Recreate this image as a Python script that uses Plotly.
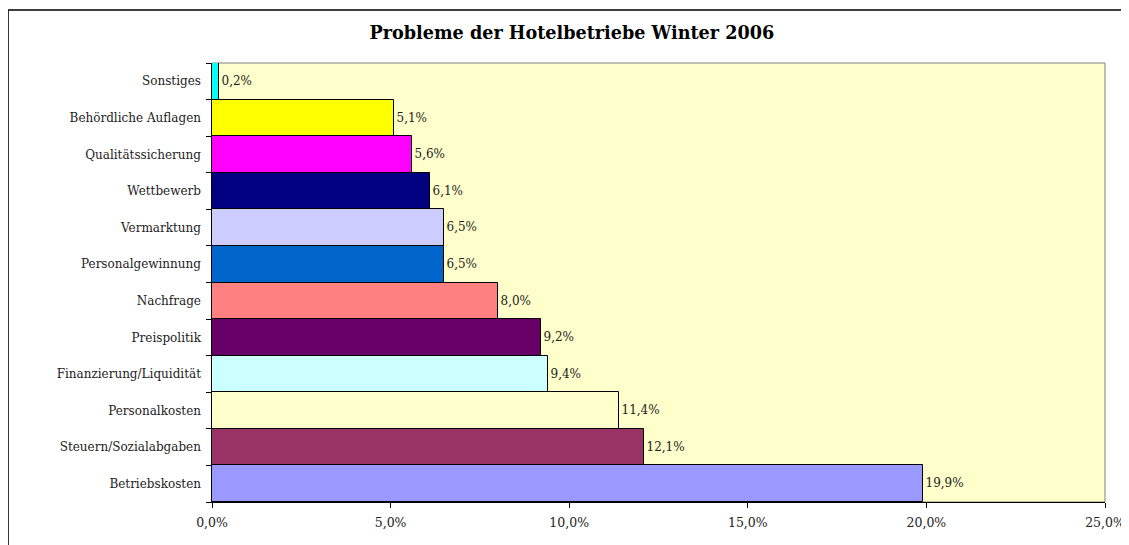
import plotly.graph_objects as go

categories = ["Betriebskosten", "Steuern/Sozialabgaben", "Personalkosten",
              "Finanzierung/Liquidität", "Preispolitik", "Nachfrage",
              "Personalgewinnung", "Vermarktung", "Wettbewerb",
              "Qualitätssicherung", "Behördliche Auflagen", "Sonstiges"]
values = [19.9, 12.1, 11.4, 9.4, 9.2, 8.0, 6.5, 6.5, 6.1, 5.6, 5.1, 0.2]
colors = ["#9999FF", "#993366", "#FFFFCC", "#CCFFFF", "#660066", "#FF8080",
          "#0066CC", "#CCCCFF", "#000080", "#FF00FF", "#FFFF00", "#00FFFF"]
tick_vals = [0, 5, 10, 15, 20, 25]
tick_text = ["0,0%", "5,0%", "10,0%", "15,0%", "20,0%", "25,0%"]
labels = [f"{v:.1f}".replace(".", ",") + "%" for v in values]

FONT = "DejaVu Serif"

fig = go.Figure(go.Bar(
    y=categories, x=values, orientation="h",
    marker=dict(color=colors, line=dict(color="black", width=1)),
    text=labels, textposition="outside", cliponaxis=False,
    textfont=dict(family=FONT, size=12, color="#222222"),
))

fig.update_layout(
    width=1121, height=537,
    margin=dict(l=204, r=24, t=55, b=43, autoexpand=False),
    paper_bgcolor="white", plot_bgcolor="#FFFFCC",
    bargap=0, showlegend=False,
    font=dict(family=FONT, size=12, color="#222222"),
    title=dict(text="<b>Probleme der Hotelbetriebe Winter 2006</b>",
               x=0.503, xanchor="center", y=0.953, yanchor="middle",
               font=dict(family=FONT, size=17.6, color="black")),
    xaxis=dict(range=[0, 25], tickvals=tick_vals, ticktext=tick_text,
               showgrid=False, zeroline=False, showline=True,
               linecolor="black", linewidth=1, ticks="outside",
               ticklen=5, tickcolor="black", fixedrange=True,
               automargin=False, ticklabelstandoff=4,
               tickfont=dict(family=FONT, size=12.5, color="#222222")),
    yaxis=dict(categoryorder="array", categoryarray=categories,
               showgrid=False, zeroline=False, showline=True,
               linecolor="black", linewidth=1, ticks="outside",
               tickson="boundaries", ticklen=5, tickcolor="black",
               ticksuffix="  ", automargin=False, fixedrange=True,
               tickfont=dict(family=FONT, size=12, color="#222222")),
    shapes=[
        dict(type="rect", xref="paper", yref="paper", x0=0, x1=1, y0=0, y1=1,
             line=dict(color="#808080", width=1), layer="below"),
        dict(type="rect", xref="paper", yref="paper",
             x0=-0.2284, x1=1.2, y0=-0.3, y1=1.1207,
             line=dict(color="black", width=1.5)),
    ],
)

fig.write_html("out.html")
